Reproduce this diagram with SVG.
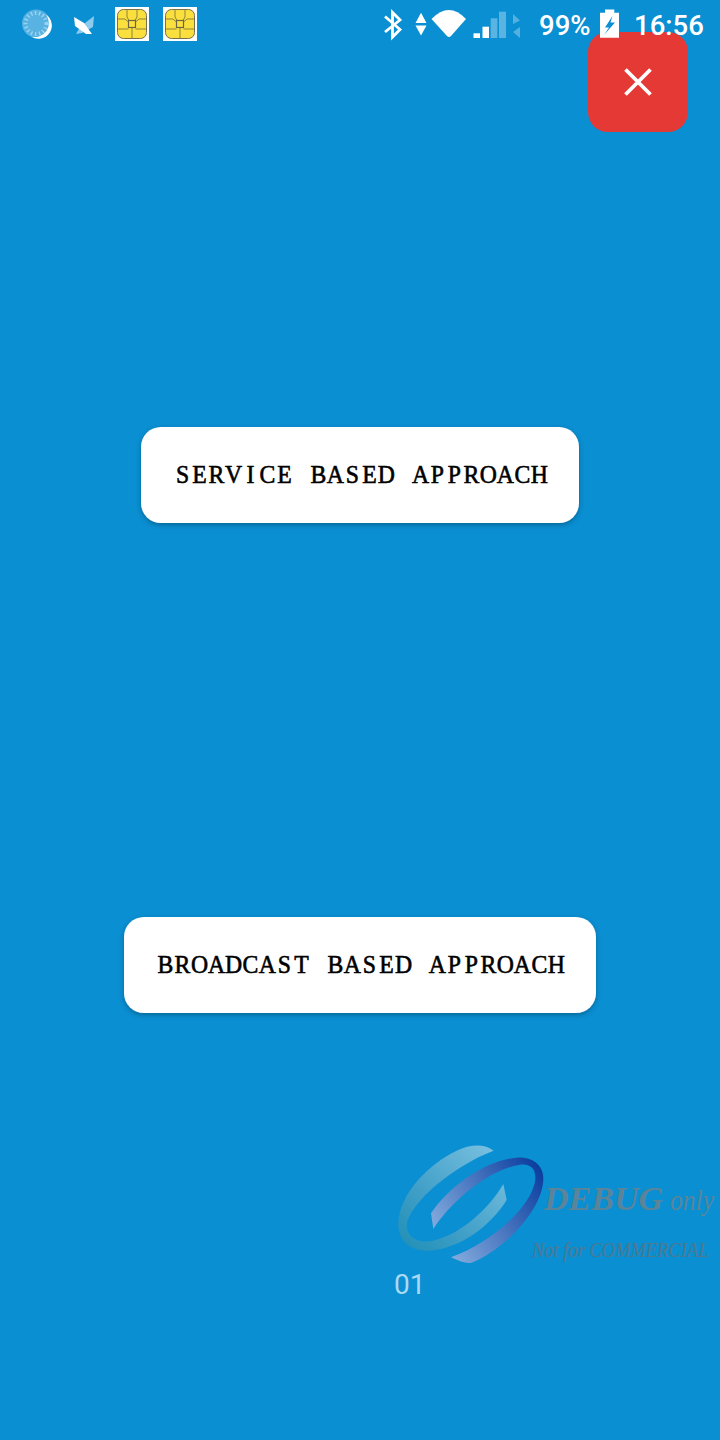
<svg xmlns="http://www.w3.org/2000/svg" width="720" height="1440" viewBox="0 0 720 1440">
<style>
.btn{fill:#fff;filter:url(#sh)}
.btnt{font-family:"Liberation Serif",serif;font-size:25px;font-weight:400;fill:#000;stroke:#000;stroke-width:.6px}
.st{font-family:Roboto,sans-serif;font-size:27.500px;font-weight:500;fill:#fff}
.chipl{fill:none;stroke:#8d8340;stroke-width:1}
.wm{font-family:"Liberation Serif",serif;font-style:italic}
</style>
<defs>
<filter id="sh" x="-5%" y="-10%" width="110%" height="130%"><feDropShadow dx="0" dy="2" stdDeviation="2.500" flood-color="#003050" flood-opacity=".45"/></filter>
<linearGradient id="g1" gradientUnits="userSpaceOnUse" x1="340" y1="50" x2="60" y2="340"><stop offset="0" stop-color="#79c0e0"/><stop offset=".6" stop-color="#42a0c8"/><stop offset="1" stop-color="#2290b8"/></linearGradient>
<linearGradient id="g2" gradientUnits="userSpaceOnUse" x1="160" y1="280" x2="460" y2="90"><stop offset="0" stop-color="#7fa8dc"/><stop offset="1" stop-color="#0d3fa0"/></linearGradient>
<g id="chip">
<rect width="34" height="34" fill="#fff"/>
<rect x="2.500" y="2.500" width="29" height="29" rx="6" fill="#fbdf3c" stroke="#77704a" stroke-width="1"/>
<path class="chipl" d="M2.500 12H10L13.500 15M2.500 22H13.500M31.500 12H24L20.500 15M31.500 22H20.500M12 2.500V10L14 13.500M22 2.500V10L20 13.500M17 20.500V31.500"/>
<rect x="13.500" y="13.500" width="7" height="7" fill="#fbdf3c" stroke="#6d6540" stroke-width="1.200"/>
</g>
</defs>
<rect id="bg" width="720" height="1440" fill="#0a8fd2"/>
<g id="close-btn">
<rect x="588" y="32" width="100" height="100" rx="20" fill="#e53935"/>
<path d="M625.500 69.500L650.500 94.500M650.500 69.500L625.500 94.500" stroke="#fff" stroke-width="3.800" fill="none"/>
</g>
<g id="statusbar">
<g id="ic-sync">
<circle cx="36" cy="23.500" r="14" fill="#58b2e2"/>
<circle cx="36" cy="23.500" r="10.500" fill="none" stroke="#9bd2ef" stroke-width="4" stroke-dasharray="1.500 2.500"/>
<path d="M46 14.500A14 14 0 0 1 31 36.500A13 13 0 0 0 46 14.500Z" fill="#fff"/>
</g>
<g id="ic-butterfly">
<path d="M94 16L93 27L82 33L76 34L80 27Z" fill="#8ccbee"/>
<path d="M74 17L84 23L92 34L86 34L75 26Z" fill="#fff"/>
</g>
<use href="#chip" x="115" y="7"/>
<use href="#chip" x="163" y="7"/>
<g id="ic-bt"><path d="M385 16.500L400 29.500L392.500 37V12.500L400 20L385 32" fill="none" stroke="#fff" stroke-width="2.800"/></g>
<g id="ic-data"><path d="M421 12.700L426.500 23H415.500ZM421 35.500L415.500 25.500H426.500Z" fill="#fff"/></g>
<g id="ic-wifi"><path d="M431.500 19Q449 1 466 19L451 36Q449 38 447 36Z" fill="#fff"/></g>
<g id="ic-signal">
<rect x="473.500" y="33.300" width="6.500" height="4.700" fill="#fff"/>
<rect x="482.500" y="26.700" width="6.500" height="11.300" fill="#fff"/>
<rect x="490.700" y="18.300" width="6.700" height="19.700" fill="#fff" fill-opacity=".33"/>
<rect x="499" y="11.700" width="7" height="26.300" fill="#fff" fill-opacity=".33"/>
<path d="M513 14L520 20.500L513 24ZM520 27L513 32L520 38Z" fill="#fff" fill-opacity=".3"/>
</g>
<text class="st" x="539" y="35">99%</text>
<g id="ic-batt"><path d="M605 9.500V12.700H600V37.700H619V12.700H614.300V9.500Z" fill="#fff"/><path d="M612.500 16L605 27.500H609L604 35L615 22.500H610.500Z" fill="#0a8fd2"/></g>
<text class="st" x="634" y="35">16:56</text>
</g>
<g id="service-btn">
<rect class="btn" x="141" y="427" width="438" height="96" rx="20"/>
<text class="btnt" transform="translate(174 483) scale(.95 1)" x="2 19.200 36.400 53.600 76.400 90.100 108.600 125 143.700 160.900 180.900 198.100 214.600 232 250.400 270.400 288.200 304.700 321.900 339.800 358.400 375.600" y="0">SERVICE BASED APPROACH</text>
</g>
<g id="broadcast-btn">
<rect class="btn" x="124" y="917" width="472" height="96" rx="20"/>
<text class="btnt" transform="translate(157 973) scale(.95 1)" x=".6 18.500 35.700 53.600 71.500 90.100 107.200 127.200 144.400 161 179.500 196.700 216.700 233.900 250.400 268 286.100 306.100 324 340.500 357.700 375.600 394.200 411.400" y="0">BROADCAST BASED APPROACH</text>
</g>
<g id="watermark">
<g transform="translate(380 1130) scale(.33333)">
<path d="M341 62C315 40 270 42 230 62C150 100 55 190 55 285C55 340 100 365 150 362C240 355 330 290 380 210L370 162C330 230 250 310 160 332C110 342 80 320 80 285C90 215 225 105 341 62Z" fill="url(#g1)"/>
<path d="M213 382C240 395 260 402 275 398C370 360 490 240 490 145C490 100 450 80 410 83C320 90 210 165 153 250L160 297C210 220 320 120 420 104C455 100 470 120 465 155C450 235 330 340 213 382Z" fill="url(#g2)"/>
</g>
<text class="wm" x="544" y="1210" font-size="33" font-weight="700" fill="#5b8499" textLength="119" lengthAdjust="spacingAndGlyphs">DEBUG</text>
<text class="wm" x="670" y="1210" font-size="29" fill="#5b8499" textLength="44" lengthAdjust="spacingAndGlyphs">only</text>
<text class="wm" transform="translate(532 1257) scale(1 1.1)" x="0" y="0" font-size="18.500" fill="#4a7a94" stroke="#4a7a94" stroke-width=".2">Not for COMMERCIAL</text>
</g>
<text id="count" x="394" y="1294" font-family="Roboto,sans-serif" font-size="28" fill="#a9d9f3">01</text>
</svg>
